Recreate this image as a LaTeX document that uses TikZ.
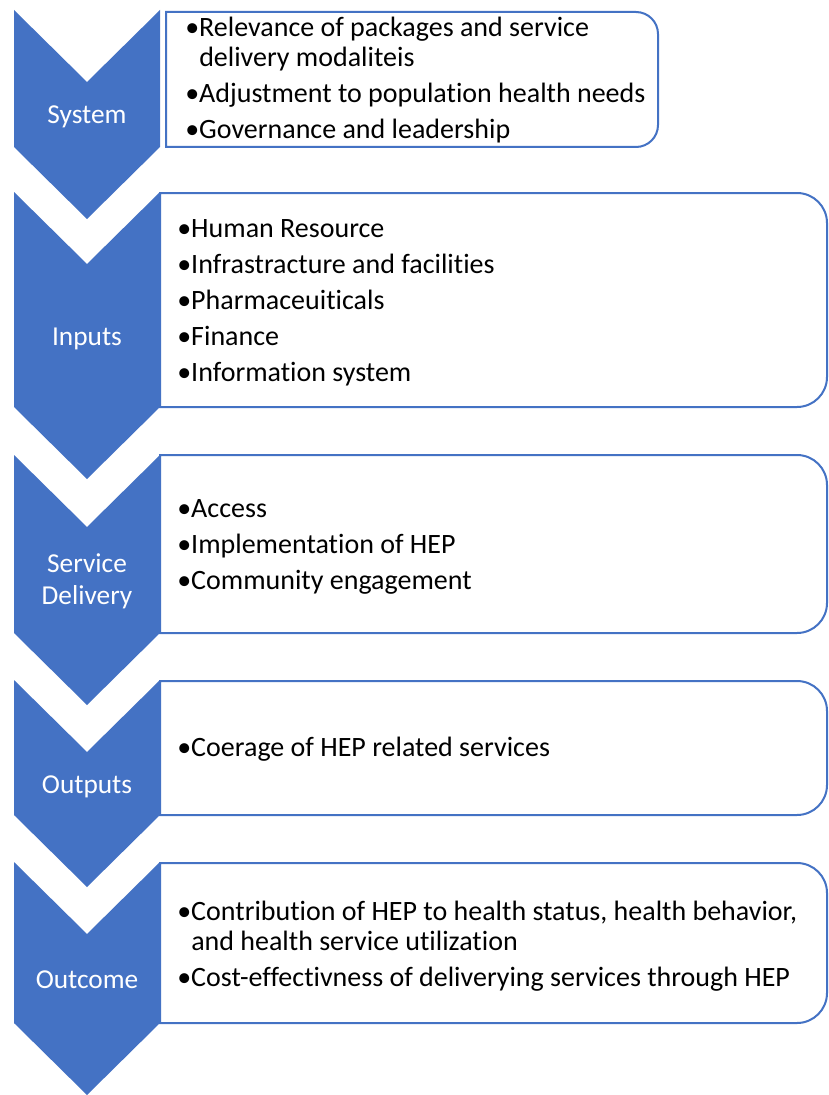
\documentclass[tikz,border=0pt]{standalone}
\usepackage{fontspec}
\setmainfont{Carlito}[Ligatures={NoCommon}]
\usetikzlibrary{positioning}
\definecolor{chevblue}{RGB}{68, 114, 196}
\tikzset{
  chev/.style={fill=chevblue},
  listbox/.style={draw=chevblue, line width=1.5pt, fill=white},
  steplabel/.style={text=white, align=center, inner sep=0pt,
              font=\fontsize{20.5pt}{24pt}\selectfont},
  items/.style={anchor=west, align=left, inner sep=0pt,
              font=\fontsize{21pt}{22.5pt}\selectfont},
}
% bullet with a fixed width, and the matching hang for wrapped lines
\newcommand{\bul}{\makebox[10.5pt][l]{\textbullet}}
\newcommand{\hang}{\hspace*{10.5pt}}
% box with square left corners and rounded right corners: x1, y1, x2, y2, radius
\newcommand{\sidebox}[5]{%
  \draw[listbox] (#1,#2) -- ({#3-#5},#2) arc[start angle=-90, end angle=0, radius=#5]
    -- (#3,{#4-#5}) arc[start angle=0, end angle=90, radius=#5] -- (#1,#4) -- cycle;}

\begin{document}
\begin{tikzpicture}[x=0.75pt, y=-0.75pt]
    \useasboundingbox (0,0) rectangle (828,1095);

    % chevrons
    \fill[chev] (14,10) -- (87,82) -- (160,10) -- (160,147) -- (87,219) -- (14,147) -- cycle;
    \fill[chev] (14,192) -- (87,264) -- (160,192) -- (160,407) -- (87,479) -- (14,407) -- cycle;
    \fill[chev] (14,455) -- (87,527) -- (160,455) -- (160,633) -- (87,705) -- (14,633) -- cycle;
    \fill[chev] (14,680) -- (87,752) -- (160,680) -- (160,815) -- (87,887) -- (14,815) -- cycle;
    \fill[chev] (14,862) -- (87,934) -- (160,862) -- (160,1023) -- (87,1095) -- (14,1023) -- cycle;

    \node[steplabel] (sys) at (87,117) {System};
    \node[steplabel] (inp) at (87,339) {Inputs};
    \node[steplabel] (svc) at (87,581) {Service\\ Delivery};
    \node[steplabel] (outp) at (87,787) {Outputs};
    \node[steplabel] (outc) at (87,980) {Outcome};

    % list boxes
    \sidebox{166}{12}{658}{147}{22}
    \sidebox{160}{193}{827}{407}{30}
    \sidebox{160}{455}{827}{633}{30}
    \sidebox{160}{681}{827}{815}{30}
    \sidebox{160}{863}{827}{1023}{30}

    \node[items] (sysitems) at (185,80) {\bul Relevance of packages and service\\
        \hang delivery modaliteis\\[4.5pt]
        \bul Adjustment to population health needs\\[4.5pt]
        \bul Governance and leadership};
    \node[items] (inpitems) at (177,303) {\bul Human Resource\\[4.5pt]
        \bul Infrastracture and facilities\\[4.5pt]
        \bul Pharmaceuiticals\\[4.5pt]
        \bul Finance\\[4.5pt]
        \bul Information system};
    \node[items] (svcitems) at (177,547) {\bul Access\\[4.5pt]
        \bul Implementation of HEP\\[4.5pt]
        \bul Community engagement};
    \node[items] (outpitems) at (177,749) {\bul Coerage of HEP related services};
    \node[items] (outcitems) at (177,946) {\bul Contribution of HEP to health status, health behavior,\\
        \hang and health service utilization\\[4.5pt]
        \bul Cost-effectivness of deliverying services through HEP};
\end{tikzpicture}
\end{document}
